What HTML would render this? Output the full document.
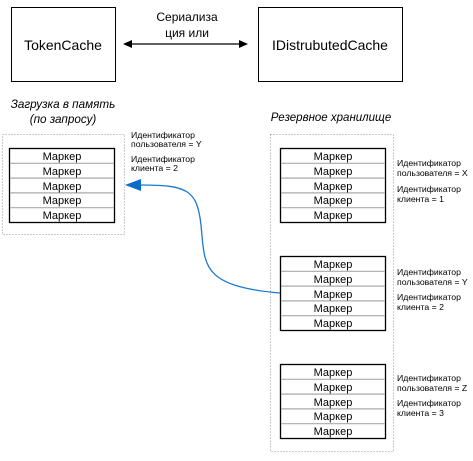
<!DOCTYPE html>
<html><head><meta charset="utf-8"><style>
body{margin:0;width:473px;height:456px;background:#fff;overflow:hidden}
</style></head><body>
<svg width="473" height="456" xmlns="http://www.w3.org/2000/svg" font-family="Liberation Sans, sans-serif">
<rect x="11.5" y="7.5" width="104" height="74" fill="#fff" stroke="#000"/>
<text x="63" y="50" font-size="14" text-anchor="middle">TokenCache</text>
<rect x="258.5" y="7.5" width="144" height="74" fill="#fff" stroke="#000"/>
<text x="330" y="50" font-size="14" text-anchor="middle">IDistrubutedCache</text>
<text x="187" y="21" font-size="12" text-anchor="middle">Сериализа</text>
<text x="187" y="37" font-size="12" text-anchor="middle">ция или</text>
<line x1="130" y1="44" x2="241" y2="44" stroke="#000" stroke-width="1.2"/>
<path d="M123,44 L132,40 L132,48 Z"/><path d="M248,44 L239,40 L239,48 Z"/>
<text x="63" y="108" font-size="11.7" font-style="italic" text-anchor="middle">Загрузка в память</text>
<text x="63" y="123" font-size="11.7" font-style="italic" text-anchor="middle">(по запросу)</text>
<text x="331" y="121" font-size="11.5" font-style="italic" text-anchor="middle">Резервное хранилище</text>
<rect x="2.5" y="134.5" width="122" height="100" fill="none" stroke="#999" stroke-dasharray="1,2"/>
<rect x="270.5" y="134.5" width="123" height="317" fill="none" stroke="#999" stroke-dasharray="1,2"/>
<g font-size="8.7">
<text x="131" y="138">Идентификатор</text><text x="131" y="147">пользователя = Y</text>
<text x="131" y="162">Идентификатор</text><text x="131" y="171">клиента = 2</text>
<text x="397" y="166">Идентификатор</text><text x="397" y="176">пользователя = X</text>
<text x="397" y="192">Идентификатор</text><text x="397" y="202">клиента = 1</text>
<text x="397" y="275">Идентификатор</text><text x="397" y="285">пользователя = Y</text>
<text x="397" y="300">Идентификатор</text><text x="397" y="310">клиента = 2</text>
<text x="397" y="381">Идентификатор</text><text x="397" y="391">пользователя = Z</text>
<text x="397" y="406">Идентификатор</text><text x="397" y="416">клиента = 3</text>
</g>
<g id="s1" font-size="11" text-anchor="middle">
<rect x="9.5" y="148.5" width="105" height="74" fill="#fff" stroke="#000" stroke-width="1.3"/>
<g stroke="#aaa" stroke-width="1.2"><line x1="10" y1="163.3" x2="114" y2="163.3"/><line x1="10" y1="178.1" x2="114" y2="178.1"/><line x1="10" y1="192.9" x2="114" y2="192.9"/><line x1="10" y1="207.7" x2="114" y2="207.7"/></g>
<text x="62" y="160">Маркер</text><text x="62" y="175">Маркер</text><text x="62" y="190">Маркер</text><text x="62" y="204">Маркер</text><text x="62" y="219">Маркер</text>
</g>
<use href="#s1" x="271" y="0"/>
<use href="#s1" x="271" y="108"/>
<use href="#s1" x="271" y="216"/>
<path d="M140,185 C188,185 197,190 201,225 C205,265 200,286 280,293" fill="none" stroke="#1a7ad0" stroke-width="1.3"/>
<path d="M125,185 L141,179 L141,191 Z" fill="#0a6cc8"/>
</svg>
</body></html>
